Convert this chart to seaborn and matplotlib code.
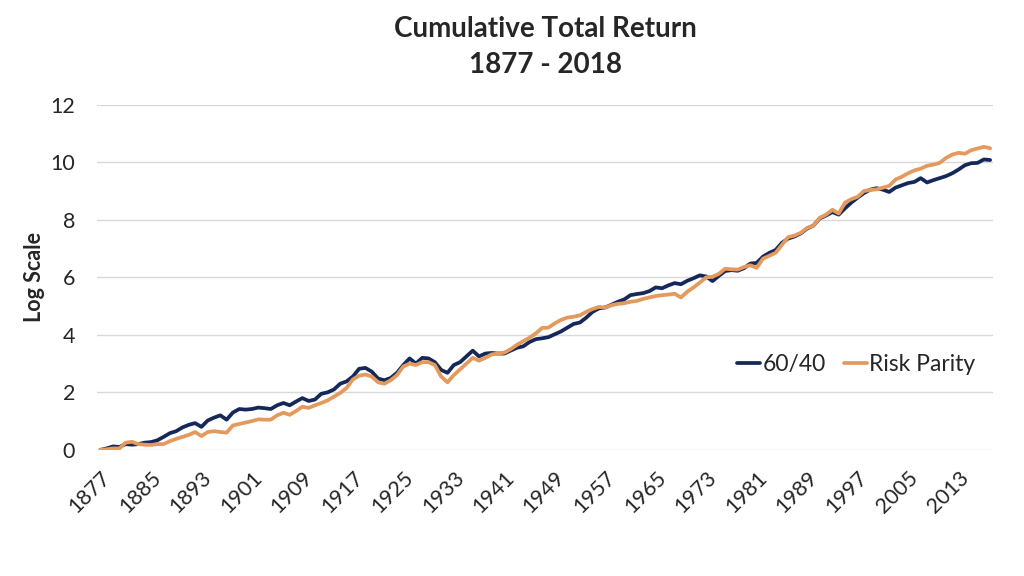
import numpy as np
import pandas as pd
import matplotlib
matplotlib.use("Agg")
import matplotlib.pyplot as plt
import seaborn as sns

# Yearly values (log of cumulative total return)
years = list(range(1877, 2019))

sixty_forty = [
    0.00, 0.05, 0.12, 0.10, 0.20, 0.18, 0.20, 0.25, 0.27, 0.33,
    0.45, 0.58, 0.65, 0.78, 0.87, 0.93, 0.80, 1.02, 1.12, 1.20,
    1.05, 1.30, 1.42, 1.40, 1.42, 1.47, 1.45, 1.42, 1.55, 1.63,
    1.55, 1.68, 1.80, 1.70, 1.75, 1.95, 2.00, 2.10, 2.30, 2.38,
    2.55, 2.82, 2.85, 2.72, 2.48, 2.42, 2.50, 2.68, 2.95, 3.18,
    3.00, 3.20, 3.18, 3.05, 2.78, 2.68, 2.95, 3.05, 3.25, 3.45,
    3.25, 3.35, 3.37, 3.35, 3.35, 3.45, 3.55, 3.60, 3.75, 3.85,
    3.88, 3.92, 4.02, 4.12, 4.25, 4.38, 4.43, 4.60, 4.80, 4.92,
    4.95, 5.05, 5.15, 5.23, 5.38, 5.42, 5.45, 5.52, 5.65, 5.62,
    5.72, 5.80, 5.76, 5.88, 5.97, 6.07, 6.03, 5.87, 6.05, 6.22,
    6.25, 6.23, 6.32, 6.48, 6.50, 6.72, 6.85, 6.95, 7.20, 7.35,
    7.42, 7.53, 7.70, 7.80, 8.05, 8.15, 8.27, 8.18, 8.40, 8.60,
    8.77, 8.93, 9.05, 9.10, 9.05, 8.97, 9.12, 9.20, 9.28, 9.32,
    9.45, 9.30, 9.38, 9.45, 9.52, 9.62, 9.75, 9.90, 9.97, 9.98,
    10.10, 10.08,
]

risk_parity = [
    0.00, 0.02, 0.05, 0.05, 0.25, 0.28, 0.20, 0.18, 0.17, 0.20,
    0.20, 0.30, 0.38, 0.45, 0.52, 0.62, 0.48, 0.62, 0.65, 0.62,
    0.60, 0.85, 0.90, 0.95, 1.00, 1.06, 1.05, 1.05, 1.20, 1.29,
    1.22, 1.35, 1.50, 1.46, 1.55, 1.63, 1.72, 1.85, 1.98, 2.15,
    2.45, 2.58, 2.62, 2.55, 2.35, 2.30, 2.42, 2.60, 2.90, 3.00,
    2.95, 3.05, 3.05, 2.95, 2.55, 2.35, 2.60, 2.80, 3.00, 3.20,
    3.10, 3.20, 3.32, 3.35, 3.38, 3.50, 3.65, 3.78, 3.90, 4.05,
    4.24, 4.25, 4.40, 4.52, 4.60, 4.63, 4.68, 4.80, 4.90, 4.97,
    4.95, 5.03, 5.08, 5.10, 5.15, 5.18, 5.25, 5.30, 5.35, 5.38,
    5.40, 5.43, 5.30, 5.50, 5.65, 5.82, 6.00, 6.02, 6.12, 6.30,
    6.28, 6.27, 6.36, 6.42, 6.33, 6.65, 6.75, 6.85, 7.13, 7.40,
    7.45, 7.55, 7.72, 7.80, 8.07, 8.18, 8.35, 8.22, 8.60, 8.72,
    8.80, 9.00, 9.04, 9.06, 9.12, 9.18, 9.40, 9.50, 9.62, 9.72,
    9.78, 9.88, 9.92, 9.98, 10.15, 10.27, 10.33, 10.30, 10.42, 10.48,
    10.54, 10.49,
]

tick_years = list(range(1877, 2018, 8))
y_ticks = [0, 2, 4, 6, 8, 10, 12]

navy = "#14295a"
orange = "#e39a5c"

df = pd.DataFrame({
    "Year": years * 2,
    "Value": sixty_forty + risk_parity,
    "Portfolio": ["60/40"] * len(years) + ["Risk Parity"] * len(years),
})

sns.set_theme(style="white")
plt.rcParams["font.family"] = ["Lato", "DejaVu Sans"]

fig = plt.figure(figsize=(10.24, 5.76), dpi=100)
ax = fig.add_axes([0.095, 0.219, 0.875, 0.599])

sns.lineplot(data=df, x="Year", y="Value", hue="Portfolio",
             palette={"60/40": navy, "Risk Parity": orange},
             linewidth=2.7, ax=ax)

ax.set_xlim(1876.5, 2018.5)
ax.set_ylim(0, 12)
ax.set_yticks(y_ticks)
ax.set_xticks(tick_years)
ax.set_xticklabels([str(y) for y in tick_years], rotation=45, ha="right",
                   rotation_mode="anchor", fontsize=15.5)
ax.tick_params(axis="y", labelsize=15.5, pad=10)
ax.tick_params(axis="x", pad=7)
ax.yaxis.grid(True, color="#d9d9d9", linewidth=1)
ax.xaxis.grid(False)
ax.set_axisbelow(True)
for s in ax.spines.values():
    s.set_visible(False)

ax.set_xlabel("")
ax.set_ylabel("Log Scale", fontsize=15.5, fontweight="bold", labelpad=4)
ax.set_title("Cumulative Total Return\n1877 - 2018", fontsize=20,
             fontweight="bold", pad=23, linespacing=1.45)

leg = ax.legend(loc="lower right", bbox_to_anchor=(1.003, 0.158), ncol=2,
                frameon=False, fontsize=16.5, handlelength=1.0,
                handletextpad=0.1, columnspacing=0.8)
for line in leg.get_lines():
    line.set_linewidth(2.7)

fig.savefig("out.png", dpi=100)
